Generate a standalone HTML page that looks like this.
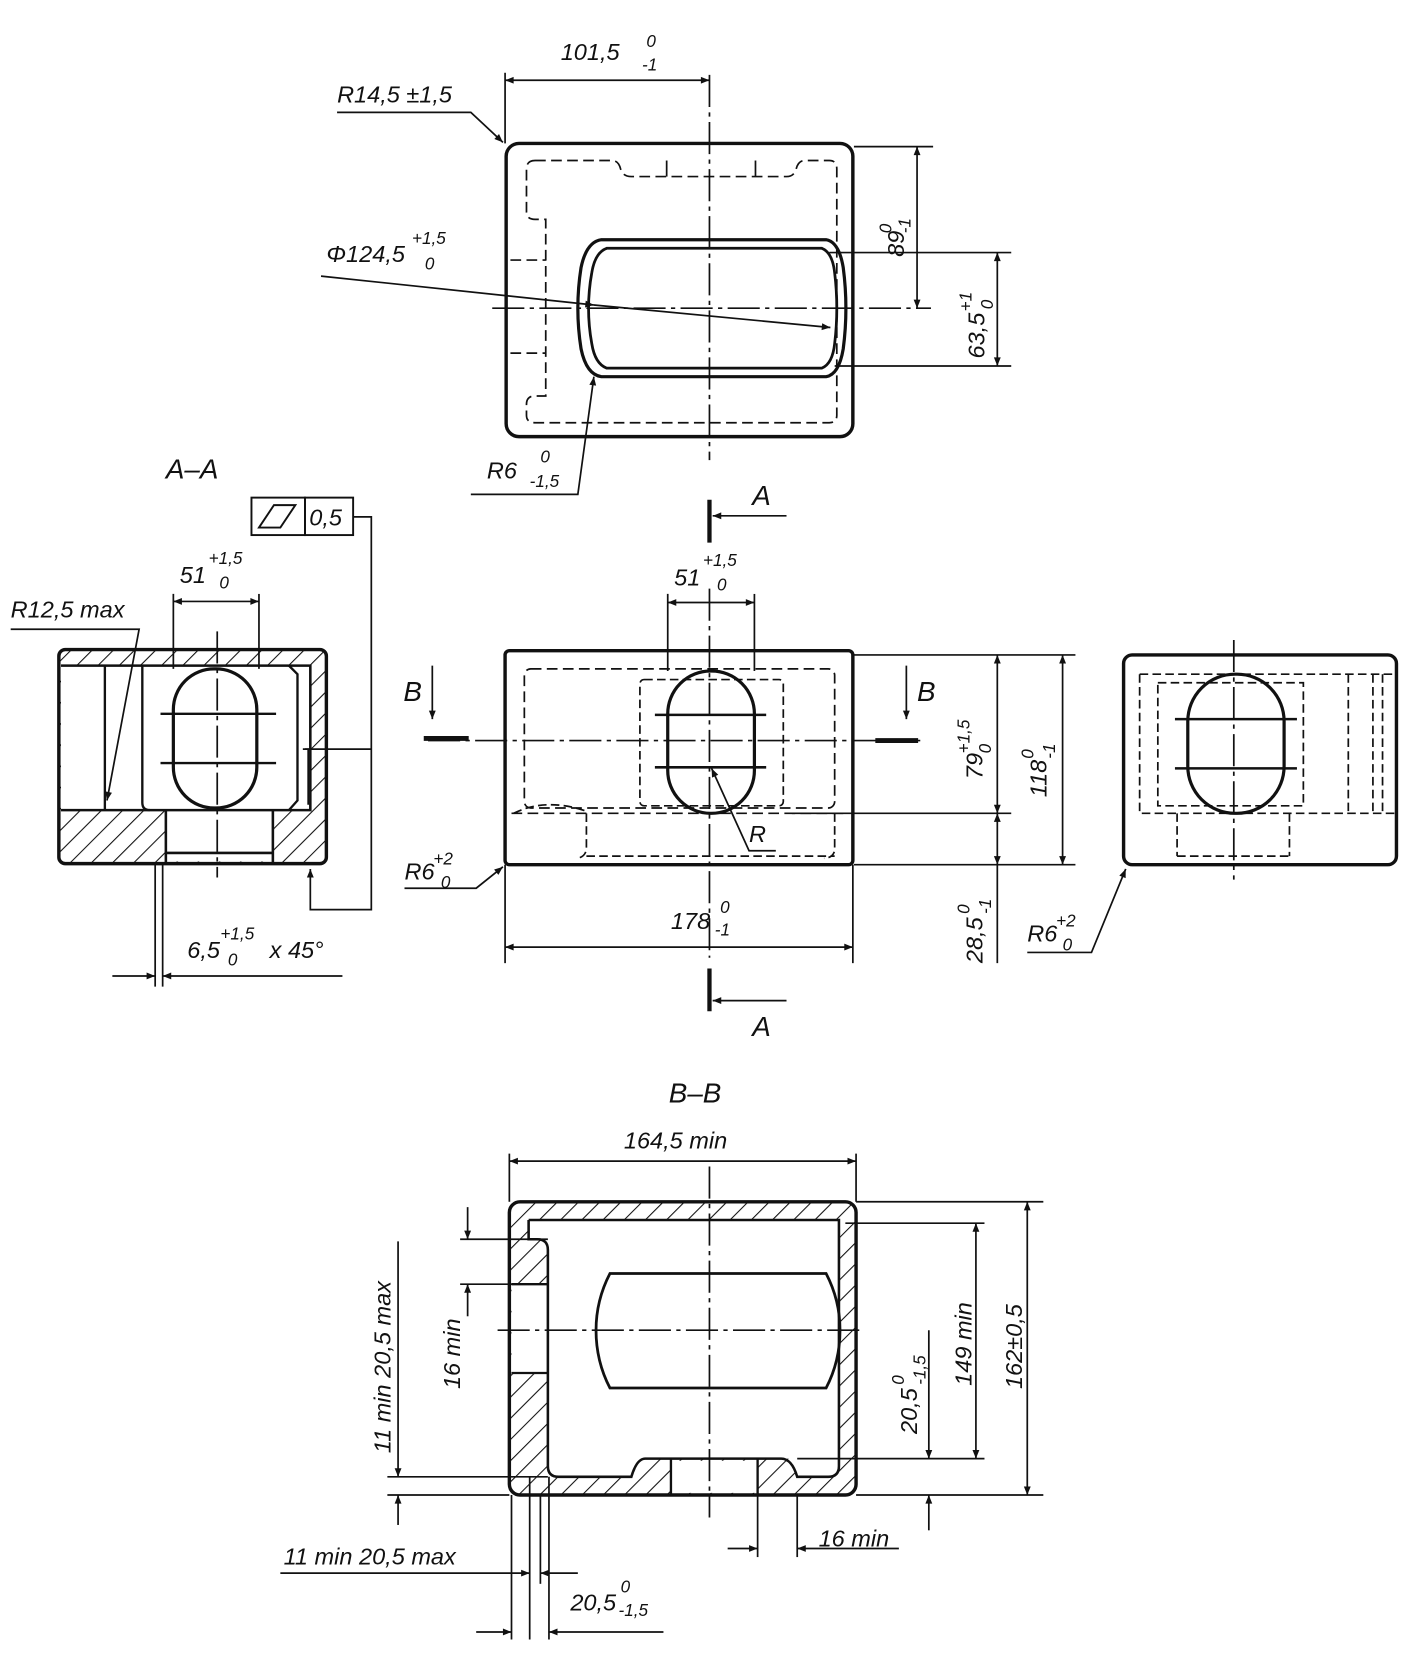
<!DOCTYPE html>
<html><head><meta charset="utf-8"><style>
html,body{margin:0;padding:0;background:#fff;}
svg{display:block;}
text{font-family:"Liberation Sans",sans-serif;font-style:italic;fill:#111;}
</style></head><body>
<svg width="1420" height="1678" viewBox="0 0 1327 1568" preserveAspectRatio="none" xmlns="http://www.w3.org/2000/svg">
<defs>
<pattern id="h" patternUnits="userSpaceOnUse" width="14" height="14" patternTransform="rotate(45)">
<rect width="14" height="14" fill="#fff"/><line x1="0" y1="0" x2="0" y2="14" stroke="#111" stroke-width="2"/>
</pattern>
<marker id="a" viewBox="0 0 10 10" refX="10" refY="5" markerWidth="14" markerHeight="8" orient="auto-start-reverse" markerUnits="userSpaceOnUse"><path d="M0,1 L10,5 L0,9 z" fill="#111"/></marker>
</defs>
<g fill="none" stroke="#111" stroke-width="1.6">

<!-- TOP VIEW -->
<rect x="473" y="134" width="324" height="274" rx="12" stroke-width="3.2"/>
<path d="M500,150 L572,150 Q578,150 580,158 Q582,165 590,165 L735,165 Q742,165 744,158 Q746,150 752,150 L775,150 Q782,150 782,158 L782,388 Q782,395 775,395 L500,395 Q492,395 492,388 L492,378 Q492,370 500,370 L510,370 L510,205 L500,205 Q492,205 492,198 L492,158 Q492,150 500,150 Z" stroke-dasharray="10,5"/>
<line x1="623" y1="150" x2="623" y2="165"/><line x1="706" y1="150" x2="706" y2="165"/>
<line x1="477" y1="243" x2="510" y2="243" stroke-dasharray="10,5"/><line x1="477" y1="330" x2="510" y2="330" stroke-dasharray="10,5"/>
<path d="M562,224 L772,224 Q784,226 788,250 Q793,288 788,326 Q784,350 772,352 L562,352 Q548,350 543,326 Q537,288 543,250 Q548,226 562,224 Z" stroke-width="3"/>
<path d="M567,232 L768,232 Q778,236 780,255 Q784,288 780,321 Q778,340 768,344 L567,344 Q556,340 553,321 Q547,288 553,255 Q556,236 567,232 Z" stroke-width="2.6"/>
<line x1="663" y1="70" x2="663" y2="430" stroke-dasharray="30,5,4,5"/>
<line x1="460" y1="288" x2="870" y2="288" stroke-dasharray="30,5,4,5"/>
<line x1="472" y1="68" x2="472" y2="134"/>
<line x1="472" y1="75" x2="663" y2="75" marker-start="url(#a)" marker-end="url(#a)"/>
<polyline points="315,105 440,105 470,133" marker-end="url(#a)"/>
<line x1="798" y1="137" x2="872" y2="137"/><line x1="775" y1="236" x2="945" y2="236"/>
<line x1="780" y1="342" x2="945" y2="342"/>
<line x1="857" y1="137" x2="857" y2="288" marker-start="url(#a)" marker-end="url(#a)"/>
<line x1="932" y1="236" x2="932" y2="342" marker-start="url(#a)" marker-end="url(#a)"/>
<line x1="300" y1="258" x2="555" y2="285" marker-end="url(#a)"/>
<line x1="555" y1="285" x2="776" y2="306" marker-end="url(#a)"/>
<polyline points="440,462 540,462 555,352" marker-end="url(#a)"/>

<!-- section A markers -->
<line x1="663" y1="467" x2="663" y2="507" stroke-width="4"/>
<line x1="735" y1="482" x2="666" y2="482" marker-end="url(#a)"/>
<line x1="663" y1="905" x2="663" y2="945" stroke-width="4"/>
<line x1="735" y1="935" x2="666" y2="935" marker-end="url(#a)"/>

<!-- FRONT VIEW -->
<rect x="472" y="608" width="325" height="200" rx="4" stroke-width="3.2"/>
<rect x="490" y="625" width="290" height="130" rx="6" stroke-dasharray="10,5"/>
<rect x="598" y="635" width="134" height="118" rx="4" stroke-dasharray="8,4"/>
<line x1="478" y1="760" x2="792" y2="760" stroke-dasharray="10,5"/>
<path d="M480,760 Q510,745 548,758 L548,792 Q548,800 540,802 M780,760 L780,795 Q778,802 770,802 M548,800 L780,800" stroke-dasharray="8,4"/>
<rect x="624" y="627" width="81" height="133" rx="40" stroke-width="3"/>
<line x1="612" y1="668" x2="716" y2="668" stroke-width="2.4"/>
<line x1="612" y1="717" x2="716" y2="717" stroke-width="2.4"/>
<line x1="663" y1="550" x2="663" y2="895" stroke-dasharray="30,5,4,5"/>
<line x1="400" y1="692" x2="860" y2="692" stroke-dasharray="30,5,4,5"/>
<line x1="624" y1="555" x2="624" y2="627"/><line x1="705" y1="555" x2="705" y2="627"/>
<line x1="624" y1="563" x2="705" y2="563" marker-start="url(#a)" marker-end="url(#a)"/>
<line x1="404" y1="622" x2="404" y2="672" marker-end="url(#a)"/>
<line x1="396" y1="690" x2="438" y2="690" stroke-width="4.5"/>
<line x1="847" y1="622" x2="847" y2="672" marker-end="url(#a)"/>
<line x1="818" y1="692" x2="858" y2="692" stroke-width="4.5"/>
<line x1="798" y1="612" x2="1005" y2="612"/><line x1="740" y1="760" x2="945" y2="760"/><line x1="798" y1="808" x2="1005" y2="808"/>
<line x1="932" y1="612" x2="932" y2="760" marker-start="url(#a)" marker-end="url(#a)"/>
<line x1="932" y1="760" x2="932" y2="808" marker-start="url(#a)" marker-end="url(#a)"/>
<line x1="932" y1="808" x2="932" y2="900"/>
<line x1="993" y1="612" x2="993" y2="808" marker-start="url(#a)" marker-end="url(#a)"/>
<line x1="472" y1="808" x2="472" y2="900"/><line x1="797" y1="808" x2="797" y2="900"/>
<line x1="472" y1="885" x2="797" y2="885" marker-start="url(#a)" marker-end="url(#a)"/>
<polyline points="378,830 445,830 470,810" marker-end="url(#a)"/>
<polyline points="725,795 700,795 665,718" marker-end="url(#a)"/>

<!-- RIGHT VIEW -->
<rect x="1050" y="612" width="255" height="196" rx="8" stroke-width="3.2"/>
<path d="M1065,630 L1305,630 M1065,630 L1065,760 L1305,760" stroke-dasharray="8,4"/>
<path d="M1082,638 L1218,638 L1218,753 L1082,753 Z" stroke-dasharray="8,4"/>
<line x1="1260" y1="630" x2="1260" y2="760" stroke-dasharray="8,4"/>
<line x1="1283" y1="630" x2="1283" y2="760" stroke-dasharray="8,4"/>
<line x1="1292" y1="630" x2="1292" y2="760" stroke-dasharray="8,4"/>
<path d="M1100,760 L1100,800 M1205,760 L1205,800 M1100,800 L1205,800" stroke-dasharray="8,4"/>
<rect x="1110" y="630" width="90" height="130" rx="44" stroke-width="3"/>
<line x1="1098" y1="672" x2="1212" y2="672" stroke-width="2.4"/>
<line x1="1098" y1="718" x2="1212" y2="718" stroke-width="2.4"/>
<line x1="1153" y1="598" x2="1153" y2="822" stroke-dasharray="30,5,4,5"/>
<polyline points="960,890 1020,890 1052,812" marker-end="url(#a)"/>

<!-- SECTION A-A -->
<rect x="55" y="607" width="250" height="200" rx="6" fill="url(#h)" stroke-width="3.2"/>
<rect x="57" y="622" width="233" height="135" fill="#fff" stroke="none"/>
<rect x="155" y="757" width="100" height="48" fill="#fff" stroke="none"/>
<path d="M57,622 L290,622 L290,757 L57,757" stroke-width="2.4"/>
<path d="M155,757 L155,807 M255,757 L255,807 M155,797 L255,797 M162,797 L248,797" stroke-width="2.4"/>
<line x1="98" y1="622" x2="98" y2="757" stroke-width="2.2"/>
<path d="M133,622 L133,750 Q133,757 140,757 M270,622 L278,630 L278,748 L270,757" stroke-width="2.2"/>
<path d="M283,700 L288,700 L288,752" stroke-width="1.6"/>
<rect x="162" y="625" width="78" height="130" rx="38" stroke-width="3"/>
<line x1="150" y1="667" x2="258" y2="667" stroke-width="2.2"/>
<line x1="150" y1="713" x2="258" y2="713" stroke-width="2.2"/>
<line x1="203" y1="590" x2="203" y2="820" stroke-dasharray="30,5,4,5"/>
<line x1="162" y1="555" x2="162" y2="625"/><line x1="242" y1="555" x2="242" y2="625"/>
<line x1="162" y1="562" x2="242" y2="562" marker-start="url(#a)" marker-end="url(#a)"/>
<polyline points="10,588 130,588 100,748" marker-end="url(#a)"/>
<rect x="235" y="465" width="50" height="35" stroke-width="1.8"/>
<rect x="285" y="465" width="45" height="35" stroke-width="1.8"/>
<path d="M242,493 L256,472 L276,472 L262,493 Z" stroke-width="1.8"/>
<polyline points="330,483 347,483 347,850 290,850 290,812" marker-end="url(#a)"/>
<line x1="347" y1="700" x2="285" y2="700"/>
<line x1="145" y1="807" x2="145" y2="922"/><line x1="152" y1="807" x2="152" y2="922"/>
<line x1="105" y1="912" x2="145" y2="912" marker-end="url(#a)"/>
<line x1="320" y1="912" x2="152" y2="912" marker-end="url(#a)"/>

<!-- SECTION B-B -->
<rect x="476" y="1123" width="324" height="274" rx="10" fill="url(#h)" stroke-width="3.2"/>
<path d="M494,1140 L784,1140 L784,1380 L745,1380 L737,1363 L600,1363 L592,1380 L512,1380 L512,1158 L494,1158 Z" fill="#fff" stroke="none"/>
<rect x="478" y="1200" width="34" height="83" fill="#fff" stroke="none"/>
<path d="M494,1140 L784,1140 L784,1370 Q784,1380 774,1380 L745,1380 Q740,1363 730,1363 L603,1363 Q595,1363 590,1380 L522,1380 Q512,1380 512,1370 L512,1168 Q512,1158 502,1158 L494,1158 L494,1140" stroke-width="2.4"/>
<path d="M478,1200 L512,1200 M478,1283 L512,1283" stroke-width="2.2"/>
<rect x="627" y="1365" width="81" height="30" fill="#fff" stroke="none"/>
<path d="M627,1363 L627,1397 M708,1363 L708,1397" stroke-width="2.2"/>
<path d="M570,1190 L772,1190 Q785,1215 785,1243 Q785,1272 772,1297 L570,1297 Q557,1272 557,1243 Q557,1215 570,1190 Z" stroke-width="2.6"/>
<line x1="663" y1="1090" x2="663" y2="1418" stroke-dasharray="30,5,4,5"/>
<line x1="465" y1="1243" x2="805" y2="1243" stroke-dasharray="30,5,4,5"/>
<line x1="476" y1="1078" x2="476" y2="1123"/><line x1="800" y1="1078" x2="800" y2="1123"/>
<line x1="476" y1="1085" x2="800" y2="1085" marker-start="url(#a)" marker-end="url(#a)"/>
<line x1="790" y1="1143" x2="920" y2="1143"/><line x1="745" y1="1363" x2="920" y2="1363"/>
<line x1="800" y1="1123" x2="975" y2="1123"/><line x1="800" y1="1397" x2="975" y2="1397"/>
<line x1="912" y1="1143" x2="912" y2="1363" marker-start="url(#a)" marker-end="url(#a)"/>
<line x1="960" y1="1123" x2="960" y2="1397" marker-start="url(#a)" marker-end="url(#a)"/>
<line x1="868" y1="1243" x2="868" y2="1363" marker-end="url(#a)"/>
<line x1="868" y1="1430" x2="868" y2="1397" marker-end="url(#a)"/>
<line x1="430" y1="1158" x2="512" y2="1158"/><line x1="430" y1="1200" x2="494" y2="1200"/>
<line x1="437" y1="1128" x2="437" y2="1158" marker-end="url(#a)"/>
<line x1="437" y1="1230" x2="437" y2="1200" marker-end="url(#a)"/>
<line x1="362" y1="1380" x2="512" y2="1380"/><line x1="362" y1="1397" x2="476" y2="1397"/>
<line x1="372" y1="1160" x2="372" y2="1380" marker-end="url(#a)"/>
<line x1="372" y1="1425" x2="372" y2="1397" marker-end="url(#a)"/>
<line x1="478" y1="1397" x2="478" y2="1532"/><line x1="495" y1="1380" x2="495" y2="1532"/>
<line x1="505" y1="1397" x2="505" y2="1480"/><line x1="513" y1="1380" x2="513" y2="1532"/>
<line x1="262" y1="1470" x2="495" y2="1470" marker-end="url(#a)"/>
<line x1="540" y1="1470" x2="505" y2="1470" marker-end="url(#a)"/>
<line x1="445" y1="1525" x2="478" y2="1525" marker-end="url(#a)"/>
<line x1="620" y1="1525" x2="513" y2="1525" marker-end="url(#a)"/>
<line x1="708" y1="1397" x2="708" y2="1455"/><line x1="745" y1="1397" x2="745" y2="1455"/>
<line x1="680" y1="1447" x2="708" y2="1447" marker-end="url(#a)"/>
<line x1="840" y1="1447" x2="745" y2="1447" marker-end="url(#a)"/>
</g>

<!-- TEXT -->
<g font-size="22">
<text x="524" y="56">101,5</text><text x="604" y="44" font-size="16">0</text><text x="600" y="66" font-size="16">-1</text>
<text x="315" y="96">R14,5 ±1,5</text>
<text x="305" y="245">Φ124,5</text><text x="385" y="228" font-size="16">+1,5</text><text x="397" y="252" font-size="16">0</text>
<text x="455" y="447">R6</text><text x="505" y="432" font-size="16">0</text><text x="495" y="455" font-size="16">-1,5</text>
<g transform="translate(845,240) rotate(-90)"><text x="0" y="0">89</text><text x="22" y="-12" font-size="16">0</text><text x="22" y="6" font-size="16">-1</text></g>
<g transform="translate(920,335) rotate(-90)"><text x="0" y="0">63,5</text><text x="44" y="-12" font-size="16">+1</text><text x="46" y="8" font-size="16">0</text></g>
<text x="155" y="447" font-size="26">A–A</text>
<text x="703" y="472" font-size="26">A</text>
<text x="703" y="968" font-size="26">A</text>
<text x="289" y="491" font-size="22">0,5</text>
<text x="168" y="545">51</text><text x="195" y="527" font-size="16">+1,5</text><text x="205" y="550" font-size="16">0</text>
<text x="10" y="577">R12,5 max</text>
<text x="630" y="547">51</text><text x="657" y="529" font-size="16">+1,5</text><text x="670" y="552" font-size="16">0</text>
<text x="377" y="655" font-size="26">B</text>
<text x="857" y="655" font-size="26">B</text>
<text x="700" y="787">R</text>
<text x="378" y="822">R6</text><text x="405" y="808" font-size="16">+2</text><text x="412" y="830" font-size="16">0</text>
<text x="627" y="868">178</text><text x="673" y="853" font-size="16">0</text><text x="668" y="874" font-size="16">-1</text>
<g transform="translate(918,728) rotate(-90)"><text x="0" y="0">79</text><text x="24" y="-12" font-size="16">+1,5</text><text x="24" y="8" font-size="16">0</text></g>
<g transform="translate(978,745) rotate(-90)"><text x="0" y="0">118</text><text x="36" y="-12" font-size="16">0</text><text x="36" y="8" font-size="16">-1</text></g>
<g transform="translate(918,900) rotate(-90)"><text x="0" y="0">28,5</text><text x="46" y="-12" font-size="16">0</text><text x="46" y="8" font-size="16">-1</text></g>
<text x="960" y="880">R6</text><text x="987" y="866" font-size="16">+2</text><text x="993" y="888" font-size="16">0</text>
<text x="175" y="895">6,5</text><text x="206" y="878" font-size="16">+1,5</text><text x="213" y="902" font-size="16">0</text><text x="252" y="895">x 45°</text>
<text x="625" y="1030" font-size="26">B–B</text>
<text x="583" y="1073">164,5 min</text>
<g transform="translate(908,1295) rotate(-90)"><text x="0" y="0">149 min</text></g>
<g transform="translate(955,1298) rotate(-90)"><text x="0" y="0">162±0,5</text></g>
<g transform="translate(857,1340) rotate(-90)"><text x="0" y="0">20,5</text><text x="46" y="-12" font-size="16">0</text><text x="46" y="8" font-size="16">-1,5</text></g>
<g transform="translate(430,1298) rotate(-90)"><text x="0" y="0">16 min</text></g>
<g transform="translate(365,1358) rotate(-90)"><text x="0" y="0">11 min 20,5 max</text></g>
<text x="265" y="1462">11 min 20,5 max</text>
<text x="765" y="1445">16 min</text>
<text x="533" y="1505">20,5</text><text x="580" y="1488" font-size="16">0</text><text x="578" y="1510" font-size="16">-1,5</text>
</g>
</svg>
</body></html>
